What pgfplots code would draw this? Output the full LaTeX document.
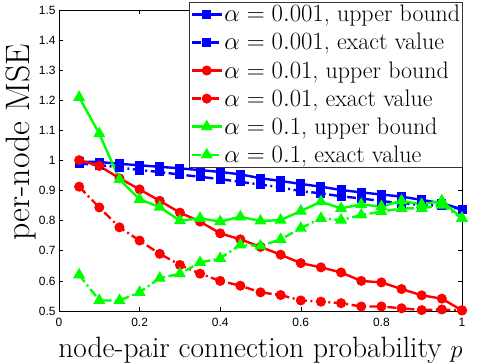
\documentclass[border=0pt]{standalone}
\usepackage{pgfplots}
\pgfplotsset{compat=1.18}
\usepackage{fontspec}
\newfontfamily\tickfont{Liberation Sans}
\definecolor{mblue}{RGB}{0,0,255}
\definecolor{mred}{RGB}{255,0,0}
\definecolor{mgreen}{RGB}{0,255,0}
\pgfplotstableread{
x    bub    bex    rub    rex    gub    gex
0.05 0.996  0.990  1.001  0.913  1.210  0.620
0.10 0.995  0.985  0.982  0.844  1.089  0.535
0.15 0.989  0.977  0.941  0.778  0.937  0.535
0.20 0.984  0.968  0.904  0.734  0.871  0.562
0.25 0.979  0.962  0.866  0.690  0.845  0.609
0.30 0.974  0.953  0.827  0.653  0.800  0.624
0.35 0.968  0.946  0.797  0.624  0.808  0.661
0.40 0.962  0.938  0.758  0.600  0.797  0.675
0.45 0.954  0.929  0.738  0.584  0.813  0.720
0.50 0.941  0.920  0.713  0.562  0.799  0.716
0.55 0.932  0.911  0.687  0.553  0.802  0.738
0.60 0.922  0.898  0.659  0.535  0.832  0.775
0.65 0.913  0.891  0.645  0.531  0.863  0.808
0.70 0.902  0.881  0.628  0.526  0.841  0.802
0.75 0.894  0.874  0.600  0.515  0.854  0.819
0.80 0.887  0.865  0.595  0.515  0.847  0.830
0.85 0.880  0.858  0.573  0.509  0.866  0.841
0.90 0.869  0.852  0.552  0.503  0.854  0.841
0.95 0.858  0.850  0.541  0.505  0.866  0.852
1.00 0.838  0.838  0.502  0.502  0.808  0.808
}\datatable
\begin{document}
\begin{tikzpicture}
\begin{axis}[
  scale only axis, width=403bp, height=301bp,
  xmin=0, xmax=1, ymin=0.5, ymax=1.5,
  xtick={0,0.2,0.4,0.6,0.8,1},
  ytick={0.5,0.6,0.7,0.8,0.9,1,1.1,1.2,1.3,1.4,1.5},
  /pgf/number format/assume math mode=true,
  tick label style={font=\tickfont\fontsize{12}{14}\selectfont},
  xticklabel style={yshift=-4bp},
  tick align=inside, major tick length=4bp,
  axis line style={line width=0.6bp},
  every tick/.style={black, line width=0.6bp},
  xtick pos=both, ytick pos=both,
  every axis x label/.style={at={(axis description cs:0.5,0)}, anchor=base, yshift=-46bp, font=\fontsize{29.5}{32}\selectfont},
  every axis y label/.style={at={(axis description cs:-0.0744,0.561)}, rotate=90, anchor=base, font=\fontsize{34}{36}\selectfont},
  xlabel={node-pair connection probability $p$},
  ylabel={per-node MSE},
  legend style={at={(1,1)}, anchor=north east, xshift=1bp, yshift=8bp,
    draw=black!80, line width=0.6bp, fill=white,
    font=\fontsize{24}{27}\selectfont,
    inner xsep=1bp, inner ysep=1.5bp, row sep=7bp,
    nodes={inner sep=1.5bp}},
  legend cell align=left,
  legend image code/.code={\draw[mark repeat=2,mark phase=2] plot coordinates {(0bp,0bp) (15bp,0bp) (30bp,0bp)};},
]
\addplot[mblue, line width=2.4bp, mark=square*, mark size=4bp, mark options={solid, line width=1bp}] table[x=x,y=bub] {\datatable};
\addplot[mblue, line width=2.4bp, dash pattern=on 9bp off 3.5bp on 2bp off 3.5bp, mark=square*, mark size=4bp, mark options={solid, line width=1bp}] table[x=x,y=bex] {\datatable};
\addplot[mred, line width=2.4bp, mark=*, mark size=4.5bp, mark options={solid, line width=1bp}] table[x=x,y=rub] {\datatable};
\addplot[mred, line width=2.4bp, dash pattern=on 9bp off 3.5bp on 2bp off 3.5bp, mark=*, mark size=4.5bp, mark options={solid, line width=1bp}] table[x=x,y=rex] {\datatable};
\addplot[mgreen, line width=2.4bp, mark=triangle*, mark size=6bp, mark options={solid, line width=1bp}] table[x=x,y=gub] {\datatable};
\addplot[mgreen, line width=2.4bp, dash pattern=on 9bp off 3.5bp on 2bp off 3.5bp, mark=triangle*, mark size=6bp, mark options={solid, line width=1bp}] table[x=x,y=gex] {\datatable};
\legend{{$\alpha = 0.001$, upper bound}, {$\alpha = 0.001$, exact value}, {$\alpha = 0.01$, upper bound}, {$\alpha = 0.01$, exact value}, {$\alpha = 0.1$, upper bound}, {$\alpha = 0.1$, exact value}}
\coordinate (sw) at (rel axis cs:0,0);
\coordinate (ne) at (rel axis cs:1,1);
\end{axis}
\pgfresetboundingbox
\path[use as bounding box] ([shift={(-59bp,-53bp)}]sw) rectangle ([shift={(22bp,10bp)}]ne);
\end{tikzpicture}
\end{document}
